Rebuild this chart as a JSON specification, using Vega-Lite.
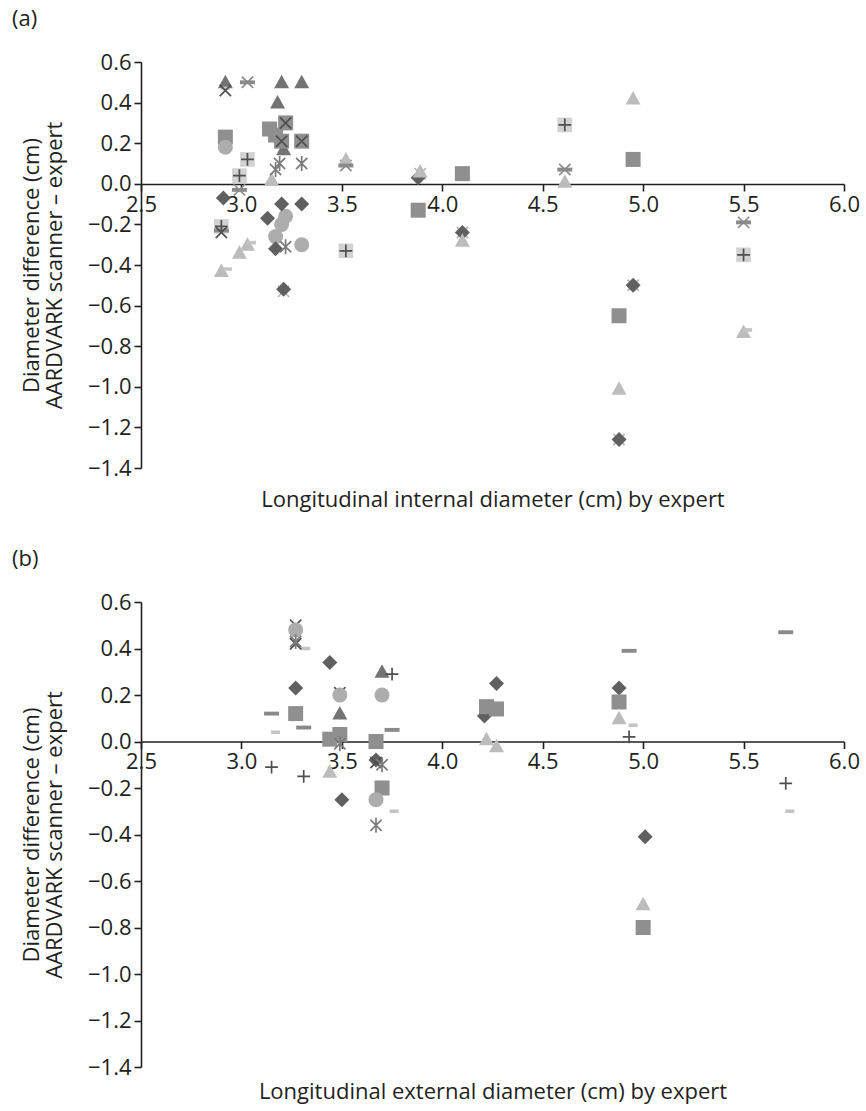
{
  "$schema": "https://vega.github.io/schema/vega-lite/v6.json",
  "padding": {"left": 11, "top": 8, "right": 5, "bottom": 5},
  "spacing": 38,
  "datasets": {
    "pts": [
      {"panel": "a", "series": "S9", "x": 2.92, "y": 0.50},
      {"panel": "a", "series": "S9", "x": 3.18, "y": 0.40},
      {"panel": "a", "series": "S9", "x": 3.20, "y": 0.50},
      {"panel": "a", "series": "S9", "x": 3.30, "y": 0.50},
      {"panel": "a", "series": "S9", "x": 3.21, "y": 0.17},
      {"panel": "a", "series": "S4", "x": 2.92, "y": 0.46},
      {"panel": "a", "series": "S4", "x": 3.22, "y": 0.30},
      {"panel": "a", "series": "S4", "x": 3.20, "y": 0.21},
      {"panel": "a", "series": "S4", "x": 3.30, "y": 0.21},
      {"panel": "a", "series": "S4", "x": 2.90, "y": -0.24},
      {"panel": "a", "series": "S2", "x": 2.92, "y": 0.23},
      {"panel": "a", "series": "S2", "x": 3.14, "y": 0.27},
      {"panel": "a", "series": "S2", "x": 3.17, "y": 0.24},
      {"panel": "a", "series": "S2", "x": 3.22, "y": 0.30},
      {"panel": "a", "series": "S2", "x": 3.20, "y": 0.21},
      {"panel": "a", "series": "S2", "x": 3.30, "y": 0.21},
      {"panel": "a", "series": "S2", "x": 3.88, "y": -0.13},
      {"panel": "a", "series": "S2", "x": 4.10, "y": 0.05},
      {"panel": "a", "series": "S2", "x": 4.95, "y": 0.12},
      {"panel": "a", "series": "S2", "x": 4.88, "y": -0.65},
      {"panel": "a", "series": "S6", "x": 2.92, "y": 0.18},
      {"panel": "a", "series": "S6", "x": 3.22, "y": -0.16},
      {"panel": "a", "series": "S6", "x": 3.20, "y": -0.20},
      {"panel": "a", "series": "S6", "x": 3.17, "y": -0.26},
      {"panel": "a", "series": "S6", "x": 3.30, "y": -0.30},
      {"panel": "a", "series": "S1", "x": 2.91, "y": -0.07},
      {"panel": "a", "series": "S1", "x": 3.13, "y": -0.17},
      {"panel": "a", "series": "S1", "x": 3.20, "y": -0.10},
      {"panel": "a", "series": "S1", "x": 3.30, "y": -0.10},
      {"panel": "a", "series": "S1", "x": 3.17, "y": -0.32},
      {"panel": "a", "series": "S1", "x": 3.21, "y": -0.52},
      {"panel": "a", "series": "S1", "x": 3.88, "y": 0.03},
      {"panel": "a", "series": "S1", "x": 4.10, "y": -0.24},
      {"panel": "a", "series": "S1", "x": 4.95, "y": -0.50},
      {"panel": "a", "series": "S1", "x": 4.88, "y": -1.26},
      {"panel": "a", "series": "S3", "x": 3.15, "y": 0.02},
      {"panel": "a", "series": "S3", "x": 2.99, "y": -0.34},
      {"panel": "a", "series": "S3", "x": 3.03, "y": -0.30},
      {"panel": "a", "series": "S3", "x": 2.90, "y": -0.43},
      {"panel": "a", "series": "S3", "x": 3.52, "y": 0.12},
      {"panel": "a", "series": "S3", "x": 3.89, "y": 0.06},
      {"panel": "a", "series": "S3", "x": 4.10, "y": -0.28},
      {"panel": "a", "series": "S3", "x": 4.61, "y": 0.01},
      {"panel": "a", "series": "S3", "x": 4.95, "y": 0.42},
      {"panel": "a", "series": "S3", "x": 4.88, "y": -1.01},
      {"panel": "a", "series": "S3", "x": 5.50, "y": -0.73},
      {"panel": "a", "series": "S7", "x": 3.03, "y": 0.12},
      {"panel": "a", "series": "S7", "x": 2.99, "y": 0.04},
      {"panel": "a", "series": "S7", "x": 2.90, "y": -0.21},
      {"panel": "a", "series": "S7", "x": 3.52, "y": -0.33},
      {"panel": "a", "series": "S7", "x": 4.61, "y": 0.29},
      {"panel": "a", "series": "S7", "x": 5.50, "y": -0.35},
      {"panel": "a", "series": "S8", "x": 3.03, "y": 0.50},
      {"panel": "a", "series": "S8", "x": 2.99, "y": -0.03},
      {"panel": "a", "series": "S8", "x": 3.52, "y": 0.09},
      {"panel": "a", "series": "S8", "x": 4.61, "y": 0.07},
      {"panel": "a", "series": "S8", "x": 5.50, "y": -0.19},
      {"panel": "a", "series": "S8", "x": 2.90, "y": -0.23},
      {"panel": "a", "series": "S10", "x": 2.92, "y": 0.47},
      {"panel": "a", "series": "S10", "x": 3.05, "y": -0.29},
      {"panel": "a", "series": "S10", "x": 2.93, "y": -0.42},
      {"panel": "a", "series": "S10", "x": 5.52, "y": -0.72},
      {"panel": "a", "series": "S11", "x": 3.03, "y": 0.50},
      {"panel": "a", "series": "S11", "x": 2.99, "y": -0.03},
      {"panel": "a", "series": "S11", "x": 3.52, "y": 0.09},
      {"panel": "a", "series": "S11", "x": 4.61, "y": 0.07},
      {"panel": "a", "series": "S11", "x": 5.50, "y": -0.19},
      {"panel": "a", "series": "S12", "x": 4.10, "y": -0.24},
      {"panel": "a", "series": "S12", "x": 4.95, "y": -0.50},
      {"panel": "a", "series": "S12", "x": 4.88, "y": -1.26},
      {"panel": "a", "series": "S12", "x": 3.21, "y": -0.53},
      {"panel": "a", "series": "S12", "x": 3.89, "y": 0.05},
      {"panel": "a", "series": "S5", "x": 3.17, "y": 0.07},
      {"panel": "a", "series": "S5", "x": 3.19, "y": 0.10},
      {"panel": "a", "series": "S5", "x": 3.30, "y": 0.10},
      {"panel": "a", "series": "S5", "x": 3.22, "y": -0.31},

      {"panel": "b", "series": "S1", "x": 3.44, "y": 0.34},
      {"panel": "b", "series": "S1", "x": 3.27, "y": 0.23},
      {"panel": "b", "series": "S1", "x": 3.50, "y": -0.25},
      {"panel": "b", "series": "S1", "x": 3.67, "y": -0.08},
      {"panel": "b", "series": "S1", "x": 4.27, "y": 0.25},
      {"panel": "b", "series": "S1", "x": 4.21, "y": 0.11},
      {"panel": "b", "series": "S1", "x": 4.88, "y": 0.23},
      {"panel": "b", "series": "S1", "x": 5.01, "y": -0.41},
      {"panel": "b", "series": "S2", "x": 3.27, "y": 0.12},
      {"panel": "b", "series": "S2", "x": 3.44, "y": 0.01},
      {"panel": "b", "series": "S2", "x": 3.49, "y": 0.03},
      {"panel": "b", "series": "S2", "x": 3.67, "y": 0.00},
      {"panel": "b", "series": "S2", "x": 3.70, "y": -0.20},
      {"panel": "b", "series": "S2", "x": 4.22, "y": 0.15},
      {"panel": "b", "series": "S2", "x": 4.27, "y": 0.14},
      {"panel": "b", "series": "S2", "x": 4.88, "y": 0.17},
      {"panel": "b", "series": "S2", "x": 5.00, "y": -0.80},
      {"panel": "b", "series": "S3", "x": 3.44, "y": -0.13},
      {"panel": "b", "series": "S3", "x": 4.22, "y": 0.01},
      {"panel": "b", "series": "S3", "x": 4.27, "y": -0.02},
      {"panel": "b", "series": "S3", "x": 4.88, "y": 0.10},
      {"panel": "b", "series": "S3", "x": 5.00, "y": -0.70},
      {"panel": "b", "series": "S9", "x": 3.70, "y": 0.30},
      {"panel": "b", "series": "S9", "x": 3.49, "y": 0.12},
      {"panel": "b", "series": "S6", "x": 3.27, "y": 0.48},
      {"panel": "b", "series": "S6", "x": 3.49, "y": 0.20},
      {"panel": "b", "series": "S6", "x": 3.70, "y": 0.20},
      {"panel": "b", "series": "S6", "x": 3.67, "y": -0.25},
      {"panel": "b", "series": "S4", "x": 3.27, "y": 0.42},
      {"panel": "b", "series": "S4", "x": 3.67, "y": -0.09},
      {"panel": "b", "series": "S13", "x": 3.27, "y": 0.50},
      {"panel": "b", "series": "S13", "x": 3.49, "y": 0.21},
      {"panel": "b", "series": "S5", "x": 3.27, "y": 0.43},
      {"panel": "b", "series": "S5", "x": 3.49, "y": -0.01},
      {"panel": "b", "series": "S5", "x": 3.70, "y": -0.10},
      {"panel": "b", "series": "S5", "x": 3.67, "y": -0.36},
      {"panel": "b", "series": "S7", "x": 3.15, "y": -0.11},
      {"panel": "b", "series": "S7", "x": 3.31, "y": -0.15},
      {"panel": "b", "series": "S7", "x": 3.75, "y": 0.29},
      {"panel": "b", "series": "S7", "x": 4.93, "y": 0.02},
      {"panel": "b", "series": "S7", "x": 5.71, "y": -0.18},
      {"panel": "b", "series": "S8", "x": 3.15, "y": 0.12},
      {"panel": "b", "series": "S8", "x": 3.31, "y": 0.06},
      {"panel": "b", "series": "S8", "x": 3.75, "y": 0.05},
      {"panel": "b", "series": "S8", "x": 4.93, "y": 0.39},
      {"panel": "b", "series": "S8", "x": 5.71, "y": 0.47},
      {"panel": "b", "series": "S10", "x": 3.17, "y": 0.04},
      {"panel": "b", "series": "S10", "x": 3.32, "y": 0.40},
      {"panel": "b", "series": "S10", "x": 3.76, "y": -0.30},
      {"panel": "b", "series": "S10", "x": 4.95, "y": 0.07},
      {"panel": "b", "series": "S10", "x": 5.73, "y": -0.30}
    ]
  },
  "resolve": {"scale": {"x": "independent", "y": "independent"}},
  "vconcat": [
    {
      "title": {"text": "(a)"},
      "width": 703,
      "height": 406,
      "data": {"name": "pts"},
      "transform": [{"filter": "datum.panel == 'a'"}],
      "encoding": {
        "x": {
          "field": "x", "type": "quantitative",
          "scale": {"domain": [2.5, 6], "nice": false, "zero": false},
          "axis": {
            "values": [2.5, 3, 3.5, 4, 4.5, 5, 5.5, 6], "format": ".1f",
            "offset": -284, "labelOverlap": false, "labelFlush": false,
            "title": "Longitudinal internal diameter (cm) by expert",
            "titleY": 315, "titleBaseline": "middle"
          }
        },
        "y": {
          "field": "y", "type": "quantitative",
          "scale": {"domain": [-1.4, 0.6], "nice": false, "zero": false},
          "axis": {
            "values": [-1.4, -1.2, -1.0, -0.8, -0.6, -0.4, -0.2, 0, 0.2, 0.4, 0.6], "format": ".1f",
            "labelOverlap": false, "labelFlush": false,
            "title": ["Diameter difference (cm)", "AARDVARK scanner – expert"],
            "titleX": -110, "titleBaseline": "middle", "titleLineHeight": 23
          }
        }
      },
      "layer": [
        {
          "transform": [{"filter": "datum.series == 'S7'"}],
          "mark": {"type": "point", "shape": "square", "filled": true, "color": "#d2d2d2", "size": 215, "opacity": 1}
        },
        {
          "transform": [{"filter": "indexof(['S11','S12','S13'], datum.series) >= 0"}],
          "mark": {"type": "point", "filled": false, "size": 225, "strokeWidth": 1.7, "opacity": 1},
          "encoding": {
            "shape": {"field": "series", "type": "nominal", "legend": null, "scale": {"domain": ["S1","S2","S3","S4","S5","S6","S7","S8","S9","S10","S11","S12","S13"], "range": ["diamond","square","M0,-1L1,0.8L-1,0.8Z","M-0.75,-0.75L0.75,0.75M-0.75,0.75L0.75,-0.75","M-0.75,-0.75L0.75,0.75M-0.75,0.75L0.75,-0.75M0,-1L0,1","circle","M-0.85,0H0.85M0,-0.85V0.85","M-1,-0.26H1V0.26H-1Z","M0,-1L1,0.8L-1,0.8Z","M-0.6,-0.24H0.6V0.24H-0.6Z","M-0.75,-0.75L0.75,0.75M-0.75,0.75L0.75,-0.75","M-0.75,-0.75L0.75,0.75M-0.75,0.75L0.75,-0.75","M-0.75,-0.75L0.75,0.75M-0.75,0.75L0.75,-0.75"]}},
            "color": {"field": "series", "type": "nominal", "legend": null, "scale": {"domain": ["S1","S2","S3","S4","S5","S6","S7","S8","S9","S10","S11","S12","S13"], "range": ["#606060","#8f8f8f","#bcbcbc","#4f4f4f","#7b7b7b","#adadad","#4f4f4f","#8a8a8a","#737373","#c4c4c4","#8c8c8c","#b8b8b8","#555555"]}}
          }
        },
        {
          "transform": [{"filter": "indexof(['S1','S2','S3','S6','S8','S9','S10'], datum.series) >= 0"}],
          "mark": {"type": "point", "filled": true, "size": 225, "opacity": 1},
          "encoding": {
            "shape": {"field": "series", "type": "nominal", "legend": null},
            "color": {"field": "series", "type": "nominal", "legend": null}
          }
        },
        {
          "transform": [{"filter": "indexof(['S4','S5','S7'], datum.series) >= 0"}],
          "mark": {"type": "point", "filled": false, "size": 225, "strokeWidth": 1.7, "opacity": 1},
          "encoding": {
            "shape": {"field": "series", "type": "nominal", "legend": null},
            "color": {"field": "series", "type": "nominal", "legend": null}
          }
        }
      ]
    },
    {
      "title": {"text": "(b)"},
      "width": 703,
      "height": 465,
      "data": {"name": "pts"},
      "transform": [{"filter": "datum.panel == 'b'"}],
      "encoding": {
        "x": {
          "field": "x", "type": "quantitative",
          "scale": {"domain": [2.5, 6], "nice": false, "zero": false},
          "axis": {
            "values": [2.5, 3, 3.5, 4, 4.5, 5, 5.5, 6], "format": ".1f",
            "offset": -325.5, "labelOverlap": false, "labelFlush": false,
            "title": "Longitudinal external diameter (cm) by expert",
            "titleY": 350, "titleBaseline": "middle"
          }
        },
        "y": {
          "field": "y", "type": "quantitative",
          "scale": {"domain": [-1.4, 0.6], "nice": false, "zero": false},
          "axis": {
            "values": [-1.4, -1.2, -1.0, -0.8, -0.6, -0.4, -0.2, 0, 0.2, 0.4, 0.6], "format": ".1f",
            "labelOverlap": false, "labelFlush": false,
            "title": ["Diameter difference (cm)", "AARDVARK scanner – expert"],
            "titleX": -110, "titleBaseline": "middle", "titleLineHeight": 23
          }
        }
      },
      "layer": [
        {
          "transform": [{"filter": "indexof(['S11','S12','S13'], datum.series) >= 0"}],
          "mark": {"type": "point", "filled": false, "size": 225, "strokeWidth": 1.7, "opacity": 1},
          "encoding": {
            "shape": {"field": "series", "type": "nominal", "legend": null},
            "color": {"field": "series", "type": "nominal", "legend": null}
          }
        },
        {
          "transform": [{"filter": "indexof(['S1','S2','S3','S6','S8','S9','S10'], datum.series) >= 0"}],
          "mark": {"type": "point", "filled": true, "size": 225, "opacity": 1},
          "encoding": {
            "shape": {"field": "series", "type": "nominal", "legend": null},
            "color": {"field": "series", "type": "nominal", "legend": null}
          }
        },
        {
          "transform": [{"filter": "indexof(['S4','S5','S7'], datum.series) >= 0"}],
          "mark": {"type": "point", "filled": false, "size": 225, "strokeWidth": 1.7, "opacity": 1},
          "encoding": {
            "shape": {"field": "series", "type": "nominal", "legend": null},
            "color": {"field": "series", "type": "nominal", "legend": null}
          }
        }
      ]
    }
  ],
  "config": {
    "font": "Open Sans",
    "view": {"stroke": null},
    "axis": {
      "grid": false,
      "domainColor": "#231f20", "tickColor": "#231f20",
      "labelColor": "#231f20", "titleColor": "#231f20",
      "domainWidth": 1.6, "tickWidth": 1.6, "tickSize": 7,
      "labelFontSize": 22, "titleFontSize": 22, "titleFontWeight": "normal",
      "labelPadding": 3
    },
    "title": {"fontSize": 22, "fontWeight": "normal", "color": "#231f20", "anchor": "start", "frame": "bounds", "offset": 20, "dx": -8}
  }
}
